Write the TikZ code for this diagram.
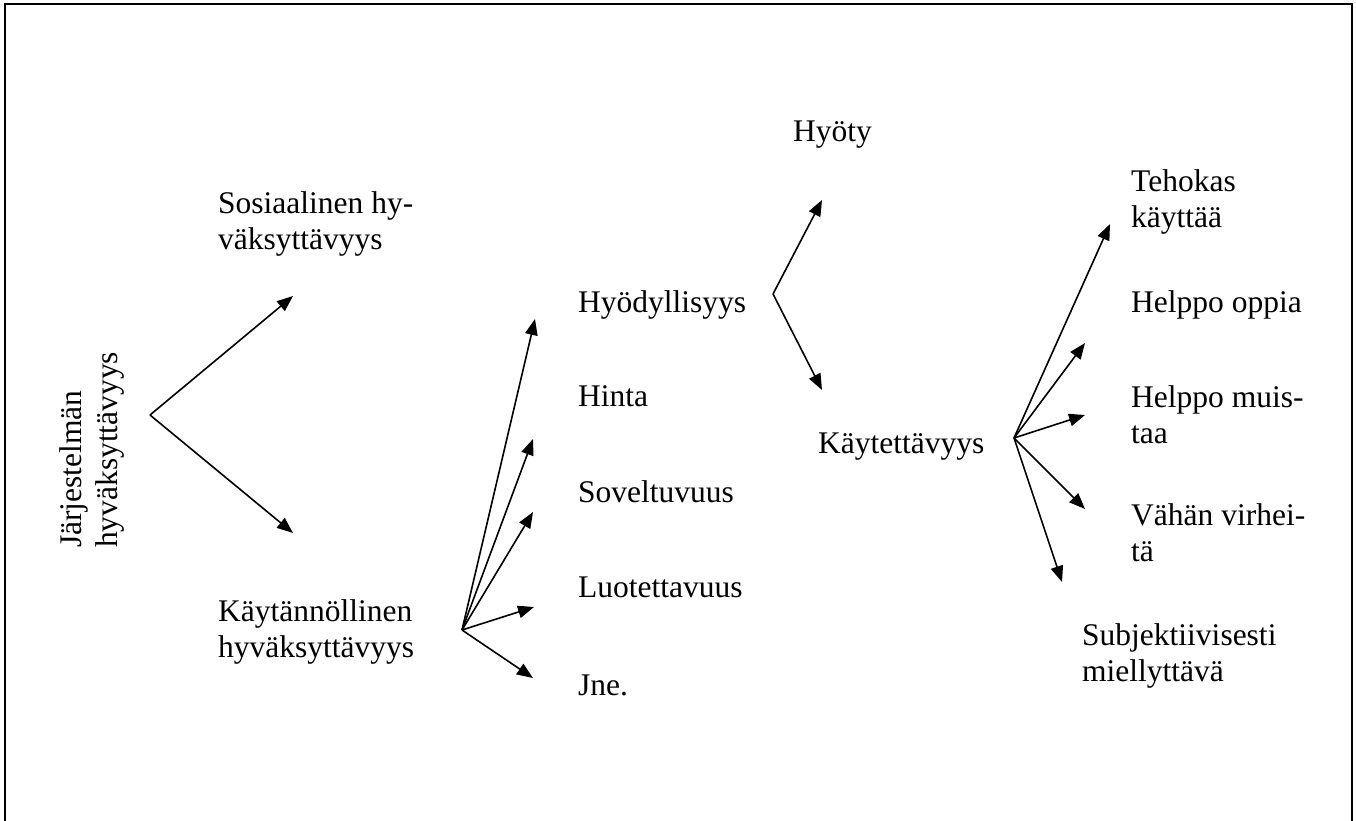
\documentclass[tikz,border=0pt]{standalone}
\usepackage{fontspec}
\setmainfont{Liberation Serif}
\usetikzlibrary{arrows.meta}

\begin{document}
\begin{tikzpicture}[x=1pt,y=-1pt,
  lbl/.style={anchor=base west,inner sep=0pt,font=\fontsize{31.5}{36.7}\selectfont},
  arr/.style={line width=1.6pt,-{Triangle[length=16pt,width=12.5pt]}},
  frame/.style={line width=2pt}]
\useasboundingbox (0,0) rectangle (1356,821);

% outer frame (open at the bottom edge of the page)
\draw[frame] (4.5,830) -- (4.5,4.5) -- (1351.6,4.5) -- (1351.6,830);

% labels
\newcommand{\lines}[1]{\begin{tabular}[t]{@{}l@{}}#1\end{tabular}}
\node[lbl,rotate=90] (root) at (81,548) {\lines{Järjestelmän\\hyväksyttävyys}};
\node[lbl] (sos)  at (218,213) {\lines{Sosiaalinen hy-\\väksyttävyys}};
\node[lbl] (kay)  at (218,621) {\lines{Käytännöllinen\\hyväksyttävyys}};

\node[lbl] (hyod) at (578,312) {Hyödyllisyys};
\node[lbl] (hin)  at (578,406) {Hinta};
\node[lbl] (sov)  at (578,502) {Soveltuvuus};
\node[lbl] (luo)  at (578,597) {Luotettavuus};
\node[lbl] (jne)  at (578,695) {Jne.};

\node[lbl] (hyot) at (793,142) {Hyöty};
\node[lbl] (kayt) at (818,453) {Käytettävyys};

\node[lbl] (teh)  at (1131,191) {\lines{Tehokas\\käyttää}};
\node[lbl] (hop)  at (1131,312) {Helppo oppia};
\node[lbl] (hmu)  at (1131,407) {\lines{Helppo muis-\\taa}};
\node[lbl] (vah)  at (1131,525) {\lines{Vähän virhei-\\tä}};
\node[lbl] (sub)  at (1082,645) {\lines{Subjektiivisesti\\miellyttävä}};

% branching points and arrow ends
\coordinate (r0) at (150,415);
\coordinate (r1) at (293,296);
\coordinate (r2) at (293,533);

\coordinate (k0) at (462,630);
\coordinate (k1) at (535,319);
\coordinate (k2) at (533,439);
\coordinate (k3) at (533,512);
\coordinate (k4) at (534,607);
\coordinate (k5) at (533,678);

\coordinate (h0) at (773,294);
\coordinate (h1) at (822,200);
\coordinate (h2) at (822,390);

\coordinate (u0) at (1014,438);
\coordinate (u1) at (1110,224);
\coordinate (u2) at (1085,343);
\coordinate (u3) at (1085,415);
\coordinate (u4) at (1085,509);
\coordinate (u5) at (1062,582);

% arrows
\foreach \t in {r1,r2} \draw[arr] (r0) -- (\t);
\foreach \t in {k1,k2,k3,k4,k5} \draw[arr] (k0) -- (\t);
\foreach \t in {h1,h2} \draw[arr] (h0) -- (\t);
\foreach \t in {u1,u2,u3,u4,u5} \draw[arr] (u0) -- (\t);
\end{tikzpicture}
\end{document}
